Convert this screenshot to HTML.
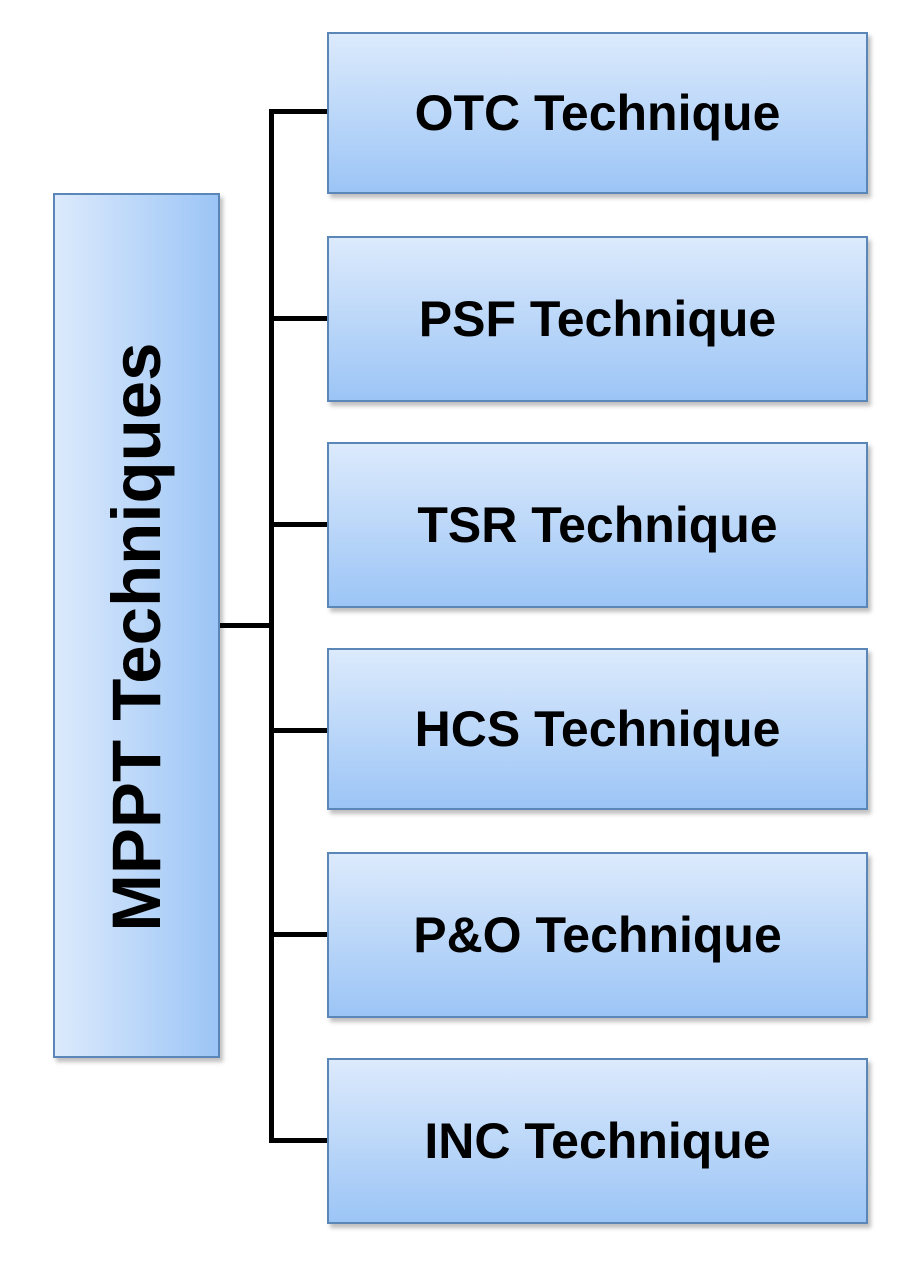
<!DOCTYPE html>
<html><head><style>
body{margin:0;width:904px;height:1270px;background:#fff;position:relative;overflow:hidden;font-family:"Liberation Sans",sans-serif;font-weight:bold}
.b{position:absolute;left:327px;width:541px;box-sizing:border-box;border:2px solid #5a86b8;background:linear-gradient(#dceafc,#9cc5f6);box-shadow:3px 4px 4px rgba(0,0,0,0.25);display:flex;align-items:center;justify-content:center;font-size:50px;color:#000}
.l{position:absolute;background:#000}
</style></head><body>
<div style="position:absolute;left:53px;top:193px;width:167px;height:865px;box-sizing:border-box;border:2px solid #5a86b8;background:linear-gradient(90deg,#dceafc,#9cc5f6);box-shadow:3px 4px 4px rgba(0,0,0,0.25)"></div>
<div style="position:absolute;left:137px;top:637px;width:0;height:0"><div style="position:absolute;left:-400px;top:-40px;width:800px;height:80px;line-height:80px;text-align:center;transform:rotate(-90deg);font-size:69px;white-space:nowrap">MPPT Techniques</div></div>
<div class="l" style="left:269px;top:109px;width:5px;height:1034px"></div>
<div class="l" style="left:220px;top:623px;width:52px;height:5px"></div>
<div class="l" style="left:269px;top:109px;width:58px;height:5px"></div>
<div class="l" style="left:269px;top:316px;width:58px;height:5px"></div>
<div class="l" style="left:269px;top:522px;width:58px;height:5px"></div>
<div class="l" style="left:269px;top:728px;width:58px;height:5px"></div>
<div class="l" style="left:269px;top:932px;width:58px;height:5px"></div>
<div class="l" style="left:269px;top:1138px;width:58px;height:5px"></div>
<div class="b" style="top:32px;height:162px">OTC Technique</div>
<div class="b" style="top:236px;height:166px">PSF Technique</div>
<div class="b" style="top:442px;height:166px">TSR Technique</div>
<div class="b" style="top:648px;height:162px">HCS Technique</div>
<div class="b" style="top:852px;height:166px">P&amp;O Technique</div>
<div class="b" style="top:1058px;height:166px">INC Technique</div>
</body></html>
